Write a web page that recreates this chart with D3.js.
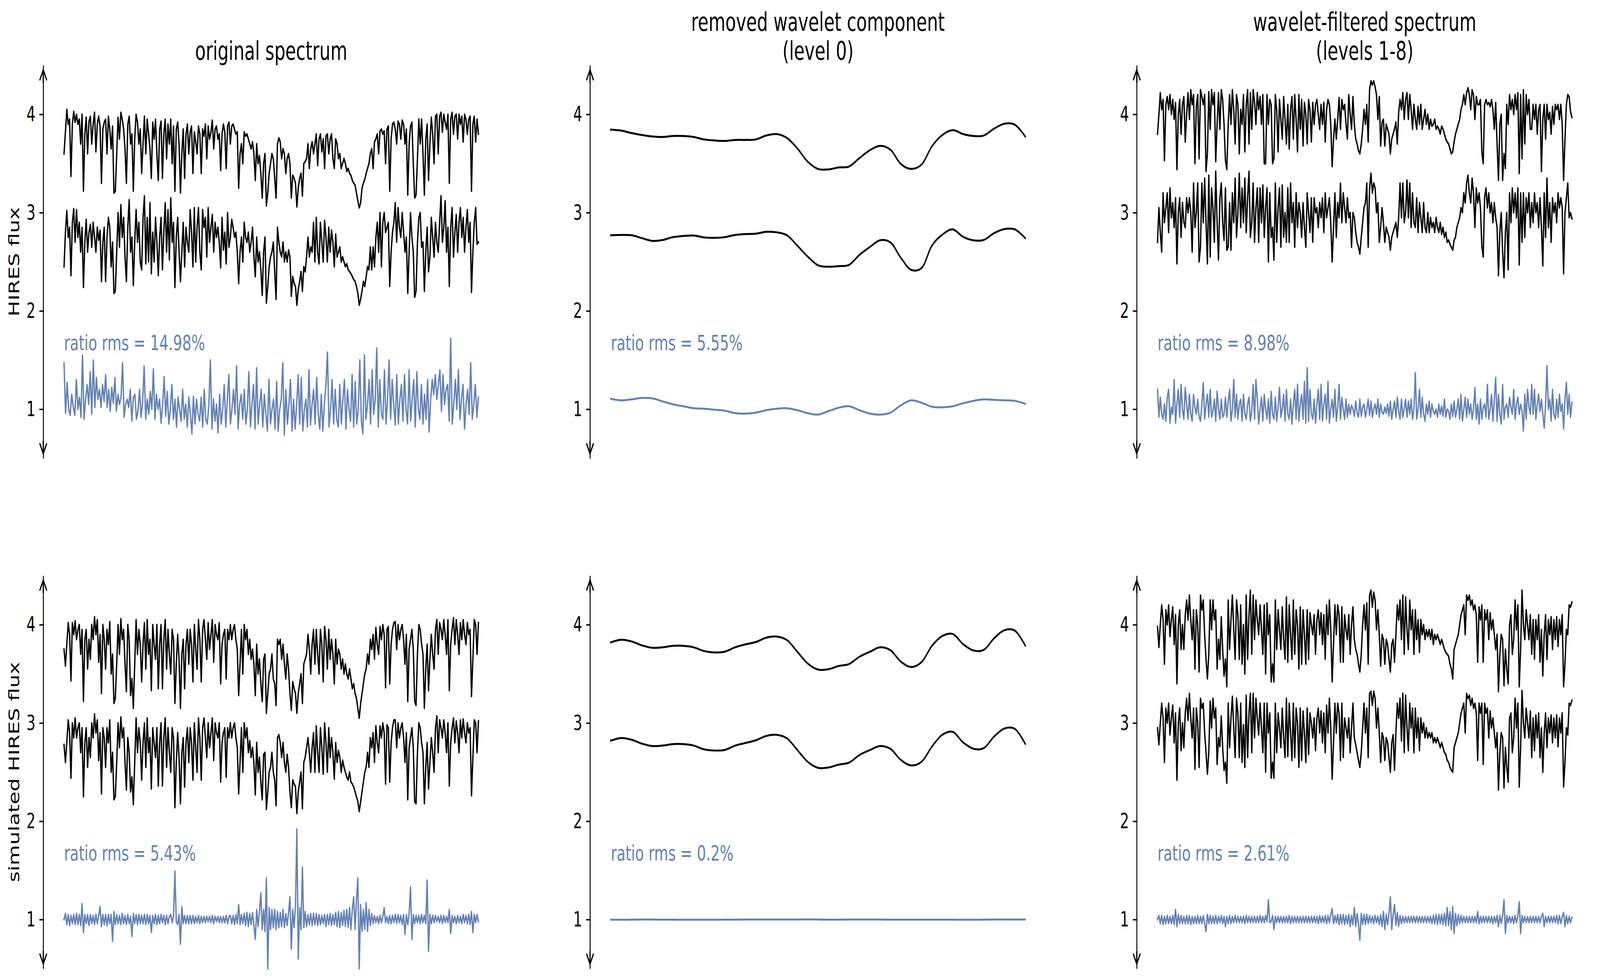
<!DOCTYPE html>
<html>
<head>
<meta charset="utf-8">
<style>
    html, body { margin: 0; padding: 0; background: #fff; width: 100%; height: 100%; overflow: hidden; }
    svg { display: block; width: 100vw; height: 100vh; }
    text { font-family: "DejaVu Sans", sans-serif; }
</style>
<script src="https://d3js.org/d3.v7.min.js"></script>
</head>
<body>
<svg id="chart" viewBox="0 0 6004 2508" preserveAspectRatio="none"></svg>
<script>
// values, each series goes left to right at even steps
var tickValues = [1, 2, 3, 4];
var columnTitles = [["original spectrum"], ["removed wavelet component", "(level 0)"], ["wavelet-filtered spectrum", "(levels 1-8)"]];
var rowLabels = ["HIRES flux", "simulated HIRES flux"];
var ratioLabels = [["ratio rms = 14.98%", "ratio rms = 5.55%", "ratio rms = 8.98%"], ["ratio rms = 5.43%", "ratio rms = 0.2%", "ratio rms = 2.61%"]];

var hiresOrigUpper = [3.6,3.82,4.05,3.9,3.95,3.37,3.9,4.03,3.92,4.0,3.9,3.95,3.7,4.0,3.22,3.8,3.97,3.6,3.93,3.98,3.7,3.9,4.02,3.62,3.9,3.98,3.88,3.3,3.85,3.92,
3.95,3.6,3.98,3.85,3.65,3.88,3.2,3.22,3.6,3.97,3.75,4.02,3.95,3.85,3.65,3.3,3.9,3.98,3.7,3.8,3.22,3.75,4.0,3.92,3.7,3.85,3.4,3.7,3.98,3.6,
3.95,3.8,3.65,3.35,3.92,3.75,3.95,3.6,3.33,3.85,3.93,3.35,3.8,3.95,3.55,3.9,3.7,3.95,3.5,3.88,3.22,3.85,3.92,3.7,3.2,3.6,3.85,3.35,3.8,3.9,
3.6,3.82,3.88,3.4,3.82,3.72,3.6,3.88,3.8,3.4,3.85,3.78,3.9,3.55,3.88,3.75,3.82,3.94,3.65,3.85,3.88,3.75,3.8,3.43,3.8,3.9,3.82,3.45,3.88,3.92,
3.7,3.88,3.9,3.85,3.8,3.82,3.25,3.6,3.7,3.5,3.82,3.78,3.8,3.75,3.7,3.65,3.72,3.6,3.33,3.7,3.5,3.58,3.4,3.15,3.5,3.6,3.07,3.2,3.4,3.5,
3.6,3.55,3.35,3.15,3.7,3.76,3.72,3.55,3.65,3.6,3.4,3.55,3.6,3.5,3.15,3.38,3.35,3.3,3.06,3.25,3.35,3.4,3.17,3.5,3.52,3.55,3.7,3.45,3.65,3.72,
3.6,3.7,3.8,3.48,3.75,3.8,3.62,3.75,3.45,3.78,3.8,3.6,3.75,3.8,3.55,3.45,3.75,3.7,3.55,3.6,3.45,3.5,3.55,3.5,3.42,3.45,3.4,3.38,3.33,3.3,3.28,3.2,3.12,3.05,
3.1,3.25,3.3,3.34,3.4,3.45,3.5,3.6,3.65,3.45,3.72,3.75,3.8,3.6,3.83,3.85,3.8,3.83,3.5,3.85,3.88,3.22,3.75,3.9,3.92,3.85,3.7,3.93,3.9,3.75,
3.94,3.9,3.7,3.85,3.18,3.7,3.88,3.92,3.5,3.15,3.18,3.55,3.95,3.7,3.95,3.6,3.18,3.75,3.9,3.33,3.7,3.97,3.8,3.5,3.98,4.0,
3.6,3.98,4.02,3.82,4.0,3.92,3.85,4.0,3.3,3.95,4.02,3.8,3.98,4.0,3.75,4.0,3.9,3.98,3.72,4.0,3.95,3.8,3.95,3.98,3.22,3.9,3.98,3.72,3.95,3.8];

var hiresOrigLower = [2.45,2.8,3.02,2.75,2.85,2.36,2.9,3.04,2.7,3.03,2.75,2.9,2.6,2.85,2.24,2.7,2.93,2.6,2.8,2.88,2.65,2.9,2.75,2.6,2.85,2.72,2.82,2.3,2.7,2.85,
2.3,2.75,2.95,2.85,2.45,2.7,2.18,2.2,2.6,3.0,2.65,3.08,2.75,2.95,2.55,2.3,2.85,3.13,2.6,2.75,2.26,2.7,3.03,2.7,2.9,2.5,2.42,2.95,3.17,2.48,
2.95,2.5,3.1,2.38,2.8,2.5,2.95,2.7,2.36,2.75,2.95,2.42,2.8,3.1,2.6,3.03,2.52,3.15,2.7,2.9,2.24,2.75,2.95,2.6,2.3,2.6,2.9,2.45,2.85,2.7,
2.6,3.03,2.8,2.45,3.05,2.5,2.85,3.05,2.6,2.42,3.03,2.85,2.95,2.55,3.05,2.7,2.85,2.98,2.6,2.9,2.75,2.85,2.7,2.44,2.95,2.62,2.8,2.48,3.0,2.65,
2.75,2.93,2.85,2.75,2.8,2.6,2.28,2.6,2.75,2.5,2.9,2.75,2.7,2.8,2.6,2.7,2.85,2.55,2.35,2.75,2.5,2.6,2.42,2.16,2.6,2.75,2.08,2.25,2.45,2.55,
2.6,2.7,2.4,2.12,2.85,2.7,2.6,2.55,2.7,2.5,2.6,2.5,2.62,2.55,2.15,2.35,2.28,2.25,2.06,2.22,2.3,2.4,2.2,2.45,2.4,2.55,2.75,2.55,2.65,2.6,
2.9,2.5,2.95,2.6,2.48,2.9,2.7,2.5,2.92,2.75,2.5,2.85,2.6,2.82,2.7,2.45,2.78,2.55,2.6,2.65,2.5,2.55,2.5,2.45,2.48,2.42,2.4,2.38,2.35,2.32,2.3,2.25,2.18,2.06,
2.12,2.2,2.3,2.25,2.35,2.45,2.42,2.65,2.42,2.65,2.45,2.75,2.9,2.6,3.0,2.45,2.9,3.0,2.8,2.85,2.9,2.25,2.6,2.8,2.9,3.1,2.7,3.05,2.85,2.75,
3.0,2.8,2.6,2.75,2.18,2.6,3.0,2.75,2.6,2.14,2.2,2.7,2.95,3.0,2.65,2.7,2.2,2.6,2.85,2.4,2.55,2.95,2.75,2.55,2.9,2.7,
2.6,2.9,3.17,2.7,2.85,3.12,2.6,2.85,2.25,2.85,3.05,2.55,2.8,2.98,2.6,2.9,3.05,2.75,2.95,2.6,2.85,3.03,2.7,2.9,2.19,2.6,2.9,3.05,2.68,2.7];

var ratioOrig = [1.47,0.96,1.27,1.0,0.94,1.15,1.02,0.94,1.3,1.0,1.12,0.92,1.55,0.9,1.1,1.25,1.05,1.38,0.95,1.5,1.02,1.32,1.1,1.2,1.02,1.25,1.08,1.35,1.02,1.2,
0.98,1.22,1.06,1.32,0.98,1.15,1.05,1.12,1.47,0.92,1.05,1.1,1.02,1.2,0.88,1.12,1.15,0.9,0.98,1.2,0.92,1.08,1.44,0.9,1.1,0.95,1.18,1.0,1.41,0.9,
1.15,1.0,1.1,0.86,1.05,1.33,0.93,1.18,0.85,1.0,1.25,0.9,1.1,0.82,1.12,1.0,0.88,1.2,0.9,1.05,0.82,1.12,0.95,0.75,1.13,0.85,1.1,0.95,0.88,1.12,
0.82,1.2,0.9,0.85,1.05,1.5,0.8,1.1,0.88,1.05,0.76,1.15,0.85,1.0,1.25,0.82,1.1,1.35,0.85,1.0,1.2,0.95,1.44,0.8,1.05,1.15,0.9,1.2,0.85,1.0,
1.38,0.82,1.05,1.25,0.8,1.42,0.85,1.05,1.2,0.82,1.15,0.95,0.78,1.3,0.85,1.0,1.1,0.8,1.28,0.78,1.0,1.1,1.47,0.74,1.2,0.85,1.05,1.3,0.78,1.1,
0.8,1.05,1.35,0.85,1.32,0.78,1.0,1.1,0.82,1.4,0.84,1.05,1.2,0.85,1.32,0.95,0.8,1.15,0.78,1.05,1.25,1.58,0.82,1.0,1.3,0.85,1.2,0.9,0.82,1.25,
0.85,1.1,1.3,0.8,1.2,1.0,0.88,1.35,0.82,1.28,0.85,1.0,1.5,0.88,0.75,1.55,0.9,1.05,1.3,0.85,1.4,0.95,1.1,1.62,0.82,1.3,0.95,0.9,1.4,0.85,
1.1,1.5,0.9,1.3,1.05,0.84,1.35,0.85,1.1,1.25,0.88,1.35,1.0,0.85,1.4,0.88,1.1,1.3,0.82,1.38,1.0,0.9,1.25,0.85,1.15,0.9,1.3,0.77,1.1,1.3,
1.15,1.35,1.1,1.25,1.4,0.98,1.35,1.05,1.2,1.25,0.88,1.72,0.85,1.05,1.3,1.0,1.4,0.9,1.1,1.25,0.8,1.05,1.2,0.95,1.47,0.9,1.05,1.25,0.92,1.12];

var waveletUpperA = [3.845,3.835,3.81,3.79,3.775,3.77,3.78,3.78,3.77,3.745,3.735,3.73,3.74,3.74,3.745,3.785,3.8,3.76,3.655,3.52,
3.445,3.44,3.46,3.47,3.555,3.635,3.68,3.64,3.495,3.445,3.49,3.675,3.79,3.84,3.8,3.78,3.785,3.855,3.905,3.895,3.775];
var waveletUpperB = [2.77,2.773,2.77,2.741,2.713,2.722,2.751,2.763,2.767,2.748,2.744,2.751,2.773,2.782,2.786,2.805,2.8,2.77,2.665,2.554,
2.465,2.45,2.456,2.469,2.57,2.65,2.72,2.697,2.54,2.418,2.437,2.665,2.776,2.83,2.754,2.719,2.722,2.792,2.833,2.83,2.741];
var waveletUpperRatio = [1.105,1.09,1.1,1.115,1.11,1.08,1.05,1.03,1.01,1.005,0.995,0.985,0.96,0.955,0.965,0.99,1.005,1.01,0.99,0.96,
0.945,0.98,1.015,1.03,0.99,0.955,0.945,0.965,1.04,1.09,1.065,1.025,1.02,1.03,1.06,1.085,1.1,1.095,1.09,1.085,1.055];

var filtOrigUpper = [3.8,4.0,4.22,4.05,4.15,3.53,4.1,4.18,4.05,4.2,4.0,4.15,3.95,4.12,3.44,4.0,4.15,3.8,4.1,4.18,3.72,4.0,4.22,3.95,4.25,4.1,4.2,3.5,4.08,4.2,
3.55,4.25,4.18,4.1,4.2,3.42,3.6,4.23,3.85,4.25,4.1,4.22,3.52,3.9,4.22,3.85,4.25,4.15,3.9,3.53,3.44,3.9,4.2,3.9,4.25,4.05,3.7,4.2,4.1,3.6,
4.05,3.9,4.2,3.62,4.1,4.25,3.7,4.22,3.85,4.25,4.12,3.9,4.22,4.05,4.18,3.9,4.2,3.5,3.5,4.2,3.9,4.15,4.1,3.5,3.55,4.2,4.05,3.62,4.15,3.95,
3.75,4.18,3.95,3.7,4.1,3.65,4.05,4.18,3.75,4.2,3.95,3.62,4.2,3.85,4.15,3.68,4.12,4.0,3.7,4.15,4.05,3.72,4.12,3.9,4.1,4.15,4.0,3.85,4.1,3.9,
4.12,3.72,4.05,4.15,4.1,3.9,3.47,3.75,3.95,3.75,3.95,4.17,3.85,4.15,4.05,4.1,3.9,3.75,4.2,4.0,3.85,4.18,3.9,3.75,3.7,3.63,3.6,3.7,3.85,4.05,
3.9,4.1,3.72,4.25,4.34,4.3,4.34,4.28,4.2,3.95,4.18,3.68,3.92,3.95,3.68,3.9,3.85,3.8,3.6,3.75,3.8,3.85,3.92,3.7,4.02,4.15,4.05,4.22,3.95,4.15,
4.22,3.95,4.2,4.05,3.85,4.1,3.95,3.85,4.08,3.9,4.1,3.85,3.95,4.05,3.9,4.0,3.85,3.95,3.88,3.9,3.95,3.85,3.88,3.85,3.8,3.88,3.85,3.8,3.75,3.72,
3.7,3.65,3.6,3.62,3.72,3.8,3.85,3.9,3.95,4.05,4.1,4.2,4.1,4.22,4.27,4.2,4.05,4.25,4.2,3.95,4.18,4.1,4.1,4.15,3.62,3.5,4.1,4.15,4.1,4.12,
4.08,4.15,4.05,3.85,4.12,3.7,3.33,3.9,4.0,3.33,3.6,3.45,4.1,3.9,4.2,4.05,4.15,4.0,4.2,4.05,4.22,3.4,4.2,3.55,4.25,3.7,4.2,4.0,4.15,3.85,
3.85,4.1,3.95,4.1,3.8,4.05,4.1,3.42,3.95,4.1,3.75,4.1,3.95,4.02,3.8,4.08,3.9,4.1,4.05,4.1,3.95,4.1,3.9,3.33,3.75,4.1,4.2,4.18,4.03,3.97];

var filtOrigLower = [2.7,3.05,2.8,2.6,3.2,2.9,3.05,3.2,2.8,3.25,2.95,3.1,2.85,3.15,2.48,3.0,3.15,2.75,3.1,2.9,2.85,3.15,3.0,3.15,3.0,2.6,3.3,2.85,3.0,3.3,
2.5,2.65,3.3,2.9,3.35,2.9,2.48,3.38,2.55,3.25,3.05,2.7,3.42,2.9,2.52,3.15,3.3,2.9,2.72,3.25,2.62,2.65,3.1,2.62,3.2,2.9,3.35,2.75,3.0,3.4,
2.85,3.25,2.9,3.35,2.8,3.15,3.42,2.75,2.9,3.3,2.7,3.05,3.25,2.7,3.25,2.9,3.28,2.75,3.05,3.25,2.5,3.2,2.75,2.85,2.52,3.3,2.7,3.05,3.25,2.65,
3.28,2.75,3.0,2.7,3.25,2.7,3.3,2.9,3.1,2.65,3.2,2.85,3.1,3.0,2.75,3.1,2.85,2.65,3.2,3.0,2.8,3.15,2.7,3.15,3.0,3.05,2.85,3.1,2.95,3.15,
2.8,3.2,2.95,3.05,3.15,2.9,2.5,2.85,3.2,2.75,3.1,2.95,3.3,2.9,3.2,3.05,2.9,3.15,2.95,3.0,2.65,3.0,2.95,2.8,2.7,2.65,2.58,2.75,2.9,3.05,
3.1,3.3,2.65,3.25,3.4,3.2,3.3,3.25,3.0,3.1,2.7,2.85,3.05,2.9,2.7,2.85,2.8,2.75,2.62,2.75,2.8,2.85,2.9,2.75,2.95,3.3,2.95,3.3,2.9,3.0,
3.33,2.95,3.3,2.85,3.2,2.9,2.85,3.15,2.8,3.1,2.95,2.8,3.1,2.85,2.8,3.0,2.8,2.95,2.85,2.9,2.8,2.95,2.85,2.8,2.9,2.78,2.85,2.75,2.8,2.7,
2.72,2.68,2.65,2.62,2.72,2.75,2.85,2.9,2.95,3.05,3.0,3.2,3.1,3.3,3.38,3.2,3.1,3.35,3.2,2.85,3.25,3.1,3.2,3.05,2.66,2.55,3.15,3.25,3.05,3.2,
3.0,3.1,2.9,3.1,2.95,2.85,2.36,2.8,3.0,2.6,2.34,2.8,3.0,2.42,3.2,2.9,3.25,3.0,3.2,2.95,3.25,2.47,3.2,2.7,3.2,2.75,3.15,3.0,3.2,2.85,
3.1,2.9,3.2,3.0,3.1,2.85,3.15,2.85,2.46,3.2,2.75,3.35,2.85,3.1,2.7,3.15,3.0,3.1,2.9,3.2,3.05,3.15,3.05,2.38,3.0,3.15,3.3,2.95,3.0,2.94];

var ratioFilt = [1.2,0.92,1.12,0.95,0.9,1.05,0.88,1.12,1.2,0.86,1.02,0.95,1.3,0.86,1.05,1.2,0.92,1.25,1.0,0.9,1.22,1.05,0.9,1.15,0.95,0.88,1.15,1.02,0.95,1.1,
0.92,0.88,1.05,1.27,0.9,1.05,1.15,0.92,1.2,0.92,0.98,1.1,0.88,1.18,1.0,0.9,1.1,0.92,0.95,1.12,0.92,1.08,1.2,0.88,1.0,1.3,0.92,1.15,0.9,1.05,
1.1,0.88,1.15,0.95,0.9,1.05,1.12,0.88,0.98,1.25,0.9,1.3,1.1,0.85,1.0,1.12,0.88,1.15,1.0,0.9,1.1,0.86,1.18,0.95,0.9,1.12,0.88,1.02,1.22,0.92,
1.0,1.15,0.88,1.2,0.95,0.9,1.1,0.85,1.05,1.2,0.9,1.25,0.88,1.05,1.15,0.9,1.28,0.86,1.42,0.88,1.2,0.95,0.9,1.1,0.86,1.05,1.2,0.9,1.25,0.88,
1.05,1.15,0.9,1.28,0.86,1.0,1.1,0.92,1.2,0.88,1.02,1.25,0.9,1.12,1.0,0.9,1.1,0.92,1.05,0.95,1.04,1.0,0.93,1.08,0.96,0.92,1.1,0.93,1.02,1.05,
0.92,1.0,1.1,0.94,1.08,0.92,1.0,1.05,0.95,1.1,0.92,1.05,0.97,0.95,1.02,0.96,1.05,0.93,1.08,0.9,1.0,1.08,0.92,1.12,0.98,0.9,1.1,0.92,1.0,1.1,
0.92,1.08,0.95,1.1,0.9,1.0,1.37,0.9,1.0,1.2,0.92,1.12,0.95,0.88,1.05,0.95,1.08,0.92,1.05,0.98,0.95,1.0,0.92,1.05,0.95,1.03,0.93,1.1,0.92,1.0,
0.98,0.9,1.05,0.93,1.08,0.92,1.0,1.1,0.9,1.15,0.88,1.0,1.12,0.92,1.1,0.95,1.05,0.9,1.0,1.22,0.9,1.05,0.85,1.1,0.9,1.02,1.05,0.92,1.25,0.9,
1.0,1.15,0.88,1.1,1.32,0.88,1.15,0.95,0.85,1.25,0.9,1.02,1.05,0.92,1.12,1.02,0.95,1.2,0.9,1.05,1.12,0.95,1.05,0.98,0.78,1.15,0.9,1.2,1.02,0.95,
1.25,0.95,1.2,0.9,1.05,1.15,0.98,1.1,0.95,0.81,1.05,1.44,1.0,1.1,0.88,1.2,0.95,0.9,1.1,0.92,1.15,0.98,1.05,0.8,1.1,1.27,0.95,1.15,0.92,1.07];

var simOrigUpper = [3.75,3.58,3.8,4.02,3.9,3.43,4.02,3.9,4.04,3.85,3.95,4.0,3.7,3.95,3.22,3.85,3.95,3.55,3.85,3.65,4.0,3.85,4.08,3.9,4.05,3.62,3.9,3.3,4.0,3.85,
3.55,3.95,3.8,4.03,3.5,3.7,3.2,3.25,3.6,4.0,3.7,4.06,3.85,3.95,3.6,3.32,4.0,3.85,3.28,3.45,3.15,3.6,4.05,3.7,3.95,3.8,3.42,3.8,4.02,3.55,
4.05,3.7,3.85,3.33,4.0,3.8,3.65,4.0,3.35,3.8,4.0,3.35,3.85,4.05,3.55,3.95,3.7,3.5,3.95,3.85,3.2,3.6,3.9,3.65,3.15,3.7,3.85,3.35,3.8,3.95,
3.6,3.95,3.8,3.42,4.0,3.75,3.55,4.05,3.85,3.42,3.95,4.05,3.85,3.65,4.02,3.75,3.9,4.05,3.62,4.0,3.9,3.85,4.02,3.4,3.8,3.9,3.95,3.45,3.95,3.85,
4.0,3.85,3.95,4.0,3.85,3.75,3.28,3.6,3.95,3.5,4.0,3.85,3.95,3.7,3.85,3.65,3.75,3.6,3.28,3.8,3.5,3.65,3.4,3.22,3.65,3.7,3.1,3.3,3.5,3.55,
3.7,3.45,3.4,3.18,3.85,3.8,3.85,3.65,3.8,3.6,3.45,3.7,3.55,3.3,3.13,3.42,3.35,3.3,3.1,3.3,3.4,3.5,3.2,3.6,3.65,3.7,3.9,3.75,3.5,3.8,
3.95,3.6,3.95,3.7,3.5,3.95,3.8,3.42,3.98,3.85,3.55,3.95,3.65,3.85,3.7,3.4,3.85,3.6,3.75,3.7,3.55,3.65,3.5,3.6,3.5,3.45,3.55,3.45,3.35,3.4,3.3,3.25,3.15,3.05,
3.2,3.3,3.4,3.5,3.55,3.7,3.6,3.85,3.75,3.9,3.65,3.97,3.8,3.7,3.98,3.85,4.0,3.9,3.36,3.95,3.98,3.4,3.8,3.95,4.02,4.03,3.75,4.0,3.85,3.95,
4.0,3.85,3.6,3.9,3.22,3.75,3.85,3.95,3.75,3.22,3.18,3.7,4.0,3.95,3.8,3.7,3.15,3.55,3.8,3.33,3.65,3.9,3.7,3.55,3.95,4.05,
3.7,4.02,3.95,3.85,4.05,3.9,3.7,4.05,3.33,3.8,3.95,4.07,3.8,4.05,3.9,3.7,4.02,3.85,4.05,3.9,3.8,4.02,3.9,3.95,3.27,3.65,4.05,4.0,3.7,4.02];

var simOrigLower = [2.78,2.6,2.8,3.03,2.9,2.44,3.0,2.85,3.05,2.85,2.95,3.0,2.7,2.95,2.25,2.8,2.95,2.55,2.85,2.65,3.0,2.85,3.09,2.9,3.03,2.62,2.9,2.28,2.95,2.85,
2.55,2.95,2.8,3.03,2.5,2.7,2.22,2.25,2.6,3.0,2.75,3.06,2.85,2.95,2.6,2.32,2.85,2.7,2.3,2.45,2.17,2.6,3.05,2.7,2.95,2.8,2.42,2.8,3.0,2.55,
3.05,2.7,2.85,2.33,2.95,2.8,2.65,2.95,2.36,2.8,3.0,2.36,2.85,3.05,2.55,2.95,2.7,2.5,2.95,2.85,2.14,2.6,2.9,2.65,2.18,2.7,2.85,2.35,2.8,2.95,
2.6,2.95,2.8,2.42,3.0,2.75,2.5,3.05,2.85,2.42,2.95,3.05,2.85,2.65,3.0,2.75,2.9,3.05,2.62,3.0,2.9,2.85,3.0,2.4,2.8,2.9,2.95,2.45,2.95,2.85,
3.0,2.85,2.95,3.0,2.85,2.75,2.28,2.6,2.95,2.5,3.0,2.85,2.95,2.7,2.82,2.65,2.75,2.6,2.27,2.8,2.5,2.65,2.4,2.22,2.68,2.7,2.12,2.3,2.5,2.55,
2.7,2.5,2.42,2.16,2.85,2.88,2.8,2.65,2.8,2.6,2.5,2.68,2.55,2.3,2.14,2.42,2.38,2.35,2.08,2.3,2.4,2.5,2.13,2.6,2.65,2.75,2.85,2.7,2.5,2.75,
2.9,2.5,2.97,2.7,2.5,2.95,2.75,2.48,3.0,2.8,2.5,2.95,2.65,2.85,2.7,2.43,2.8,2.6,2.72,2.65,2.5,2.62,2.55,2.5,2.45,2.42,2.5,2.4,2.38,2.35,2.3,2.25,2.2,2.1,
2.2,2.3,2.4,2.5,2.55,2.7,2.55,2.85,2.75,2.9,2.6,2.97,2.8,2.7,2.97,2.85,3.0,2.9,2.38,2.98,2.95,2.4,2.8,2.95,3.03,3.03,2.75,3.0,2.85,2.95,
3.0,2.85,2.6,2.9,2.22,2.75,2.85,2.95,2.75,2.2,2.18,2.7,3.0,2.95,2.8,2.7,2.18,2.55,2.8,2.33,2.6,2.85,2.7,2.5,2.95,3.07,
2.7,3.03,2.95,2.85,3.03,2.9,2.7,3.0,2.36,2.8,2.95,3.05,2.8,3.02,2.9,2.7,3.03,2.85,3.04,2.9,2.8,3.0,2.9,2.95,2.26,2.65,3.03,3.0,2.7,3.02];

var ratioSimOrig = [1.0,1.06,0.95,1.05,0.94,1.04,0.96,1.05,0.95,1.06,0.95,1.05,0.94,1.16,0.87,1.05,0.96,1.05,0.94,1.05,0.96,1.04,0.95,1.05,0.96,1.04,1.13,0.93,1.05,0.95,
1.05,0.94,1.05,0.96,1.05,0.78,1.08,0.95,1.05,0.96,1.04,0.95,1.06,0.96,1.04,0.95,1.05,0.96,1.03,0.83,1.06,0.96,1.05,0.95,1.05,0.96,1.04,0.96,1.05,0.95,
1.05,0.96,1.04,0.87,1.04,0.96,1.05,0.95,1.04,0.96,1.05,0.97,1.04,0.95,1.04,0.96,1.03,1.05,0.97,1.04,1.49,0.98,0.95,1.05,0.75,1.13,0.96,1.04,0.96,1.04,
0.96,1.04,0.96,1.04,0.96,1.03,0.97,1.04,0.96,1.03,0.97,1.03,0.97,1.03,0.98,1.03,0.97,1.04,0.96,1.03,0.98,1.03,0.97,1.03,0.97,1.03,0.97,1.04,0.96,1.03,
1.04,0.96,1.04,0.95,1.05,0.96,1.15,0.95,1.05,0.96,1.06,0.94,1.07,0.93,1.06,0.95,1.07,0.94,0.8,1.1,0.93,1.08,1.27,0.9,1.1,0.88,1.42,0.5,1.12,0.9,
1.1,0.92,1.1,0.9,1.08,0.92,1.07,0.93,1.1,0.92,1.06,0.94,1.07,1.23,0.7,1.1,0.92,1.15,1.92,0.6,1.12,0.9,1.53,0.92,1.08,0.93,1.05,0.95,1.06,0.94,
1.06,0.95,1.06,0.94,1.05,0.95,1.04,0.96,1.05,0.93,1.05,0.95,1.06,0.94,1.05,0.95,1.07,0.93,1.08,0.92,1.07,0.94,1.09,0.93,1.1,0.92,1.12,0.9,1.1,1.23,
0.9,1.2,1.42,0.5,1.15,0.88,1.1,0.9,1.17,0.88,1.1,0.94,1.06,0.96,1.04,0.97,1.03,0.96,1.04,0.97,1.03,1.12,0.97,1.03,0.96,1.04,0.96,1.04,0.97,1.05,
0.96,1.05,0.97,1.04,0.95,1.05,0.85,1.05,0.95,1.06,1.33,0.8,1.05,0.96,1.04,0.97,1.04,0.96,1.05,0.97,1.04,0.96,1.4,0.68,1.05,0.96,1.04,0.97,1.04,0.98,
1.03,0.97,1.04,0.96,1.04,0.97,1.03,0.97,1.1,0.86,1.04,0.97,1.03,0.96,1.04,0.97,1.03,0.96,1.05,0.97,1.04,0.96,1.05,0.95,1.08,0.87,1.05,0.97,1.05,0.98];

var waveletLowerA = [3.82,3.847,3.83,3.79,3.765,3.77,3.785,3.785,3.77,3.732,3.718,3.726,3.77,3.8,3.824,3.868,3.88,3.844,3.726,3.606,
3.544,3.547,3.58,3.6,3.674,3.724,3.77,3.74,3.624,3.57,3.62,3.785,3.885,3.906,3.803,3.738,3.744,3.862,3.944,3.94,3.788];
var waveletLowerB = [2.82,2.847,2.83,2.79,2.765,2.77,2.785,2.785,2.77,2.732,2.72,2.726,2.77,2.797,2.824,2.868,2.88,2.844,2.726,2.606,
2.544,2.547,2.576,2.597,2.674,2.724,2.765,2.736,2.624,2.568,2.606,2.76,2.88,2.91,2.803,2.738,2.744,2.862,2.944,2.94,2.788];
var waveletLowerRatio = [0.998,0.998,0.999,1.0,1.0,0.999,0.999,0.998,0.998,0.998,0.998,0.999,0.999,1.0,1.0,1.0,1.0,1.0,1.0,1.001,
1.0,0.999,0.999,1.0,1.0,1.0,1.0,0.999,0.999,0.999,0.999,0.999,0.999,0.999,0.998,0.998,0.999,1.0,1.0,1.0,1.0];

var simFiltUpper = [3.98,3.77,4.0,4.2,4.05,3.6,4.15,4.0,4.2,3.88,4.05,4.18,3.8,4.1,3.4,4.0,4.15,3.75,4.0,3.75,4.1,4.25,4.05,4.3,4.05,3.85,4.15,3.55,4.15,4.0,
3.52,4.3,4.15,4.25,3.9,3.65,3.45,3.7,4.25,3.95,4.25,4.05,4.15,3.55,3.85,3.65,4.08,3.75,3.48,3.65,3.37,4.25,3.75,4.05,4.3,3.95,3.65,4.25,4.1,3.65,
4.2,3.6,4.0,3.5,4.3,3.65,4.1,4.35,3.7,4.3,3.85,4.25,4.05,3.9,4.2,3.95,3.7,4.2,3.5,4.22,3.9,4.1,3.42,3.6,3.42,4.25,3.75,4.15,3.95,3.75,
4.18,3.85,3.65,4.28,3.62,4.2,3.9,3.65,4.25,3.7,4.15,4.0,3.55,4.18,3.6,4.15,3.9,3.6,4.15,3.65,4.12,4.0,3.9,4.1,3.7,4.05,4.15,3.9,4.12,3.8,
4.1,3.65,4.2,3.9,4.25,3.95,3.42,3.8,4.2,3.9,4.2,4.1,3.62,4.18,3.62,4.1,3.95,3.85,4.1,3.7,4.0,4.18,3.85,3.75,3.7,3.6,3.52,3.7,4.0,4.2,
3.95,4.22,3.6,4.3,4.35,4.18,4.33,4.25,3.95,4.15,3.9,3.58,3.9,3.85,3.6,3.85,3.8,3.65,3.52,3.8,3.85,3.62,3.9,4.2,4.05,4.25,3.85,4.3,3.7,4.28,
3.95,3.75,4.25,3.95,4.15,3.7,4.15,3.85,4.05,3.72,4.05,3.9,4.0,3.85,3.95,3.88,3.95,3.85,3.95,3.8,3.9,3.85,3.9,3.85,3.8,3.85,3.8,3.75,3.72,3.7,
3.68,3.6,3.55,3.45,3.75,3.8,3.85,3.9,4.0,4.1,4.15,4.2,3.9,4.3,4.25,4.3,4.2,4.25,4.15,4.2,4.1,3.62,4.18,4.05,4.2,3.62,4.15,4.05,4.15,3.85,
4.12,3.95,4.05,3.9,3.75,3.9,3.32,3.7,3.9,3.85,3.38,3.75,3.55,3.4,4.0,4.1,3.7,3.85,4.25,3.95,4.2,3.37,3.75,4.35,4.0,3.85,4.15,4.0,3.85,4.1,
3.7,4.05,3.65,4.05,3.85,4.1,3.62,3.95,3.48,3.9,4.1,3.65,4.05,3.9,4.08,3.75,4.05,3.85,4.08,3.78,4.05,3.9,4.1,3.37,3.6,3.95,3.9,4.2,4.18,4.23];

var simFiltLower = [2.95,2.78,3.0,3.2,3.05,2.6,3.15,3.0,3.2,2.88,3.05,3.18,2.8,3.1,2.42,3.0,3.15,2.72,3.0,2.75,3.1,3.25,3.03,3.3,3.05,2.85,3.15,2.53,3.15,3.0,
2.55,3.25,3.15,3.2,2.9,2.7,2.48,2.7,3.22,2.95,3.25,3.05,3.15,2.58,2.85,2.76,3.07,2.75,2.52,2.6,2.39,3.2,2.75,3.05,3.27,2.95,2.65,3.25,3.1,2.65,
3.2,2.6,2.98,2.55,3.28,2.65,3.1,3.3,2.7,3.3,2.85,3.25,3.05,2.88,3.2,2.95,2.7,3.2,2.5,3.2,2.9,3.1,2.44,2.6,2.44,3.2,2.7,3.1,2.95,2.75,
3.15,2.85,2.65,3.25,2.66,3.2,2.9,2.62,3.2,2.65,3.15,3.0,2.55,3.15,2.62,3.12,2.9,2.6,3.15,2.68,3.1,3.0,2.85,3.05,2.72,3.05,3.15,2.9,3.12,2.8,
3.1,2.7,3.18,2.9,3.25,2.95,2.43,2.8,3.2,2.9,3.2,3.1,2.62,3.2,2.65,3.05,2.95,2.85,3.05,2.7,2.95,3.2,2.85,2.78,2.7,2.62,2.55,2.7,2.95,3.2,
2.9,3.15,2.65,3.3,3.32,3.18,3.32,3.25,2.95,3.15,2.9,2.6,2.9,2.85,2.62,2.85,2.8,2.65,2.5,2.8,2.88,2.52,2.9,3.2,3.05,3.25,2.82,3.3,2.7,3.28,
2.95,2.72,3.2,2.95,3.15,2.7,3.15,2.85,3.05,2.72,3.05,2.9,3.0,2.85,2.95,2.85,2.9,2.85,2.9,2.8,2.85,2.8,2.85,2.8,2.75,2.8,2.75,2.7,2.68,2.62,
2.6,2.55,2.52,2.5,2.75,2.8,2.85,2.9,3.0,3.1,3.15,3.2,2.9,3.3,3.25,3.28,3.18,3.25,3.15,3.2,3.1,2.62,3.2,3.1,3.2,2.58,3.2,3.1,3.15,2.85,
3.12,2.95,3.05,2.9,2.75,2.9,2.32,2.7,2.9,2.85,2.34,2.75,2.55,2.4,3.05,3.1,2.7,2.85,3.25,2.95,3.2,2.35,2.75,3.33,3.0,2.85,3.15,3.0,2.85,3.12,
2.65,3.05,2.72,3.08,2.85,3.1,2.65,2.95,2.5,2.9,3.1,2.75,3.05,2.9,3.08,2.8,3.05,2.85,3.08,2.76,3.05,2.9,3.1,2.35,2.6,2.95,2.88,3.2,3.18,3.23];

var ratioSimFilt = [1.0,1.04,0.96,1.04,0.95,1.03,0.96,1.04,0.96,1.03,0.96,1.04,0.95,1.1,0.93,1.05,0.96,1.04,0.96,1.03,0.96,1.04,0.96,1.04,0.95,1.03,0.96,1.03,0.96,1.04,
0.96,1.03,0.96,1.04,0.96,0.88,1.05,0.96,1.04,0.96,1.03,0.96,1.04,0.96,1.03,0.97,1.04,0.96,1.03,0.93,1.03,0.96,1.04,0.96,1.03,0.97,1.04,0.97,1.03,0.97,
1.03,0.97,1.03,0.96,1.04,0.97,1.03,0.97,1.03,0.97,1.03,0.97,1.03,0.97,1.04,0.97,1.03,0.97,1.04,0.98,1.2,0.97,0.98,1.04,0.9,1.03,0.97,1.03,0.97,1.03,
0.97,1.03,0.97,1.03,0.97,1.04,0.96,1.03,0.97,1.03,0.97,1.03,0.97,1.03,0.97,1.03,0.97,1.03,0.97,1.03,0.97,1.03,0.97,1.03,0.97,1.03,0.96,1.04,0.97,1.03,
0.97,1.04,0.96,1.04,0.97,1.05,1.11,0.96,1.04,0.97,1.05,0.95,1.05,0.96,1.05,0.95,1.04,0.96,1.05,0.93,1.04,0.95,1.12,0.93,1.06,0.95,0.79,1.06,0.95,1.05,
0.95,1.05,0.96,1.04,0.97,1.03,0.96,1.04,0.97,1.03,0.95,1.05,0.93,1.08,0.9,1.05,0.95,1.06,1.23,0.9,1.05,1.15,0.94,1.07,0.93,1.04,0.96,1.03,0.97,1.03,
0.97,1.03,0.97,1.03,0.97,1.03,0.97,1.03,0.97,1.03,0.97,1.03,0.97,1.03,0.97,1.03,0.97,1.03,0.96,1.04,0.96,1.05,0.95,1.05,0.96,1.05,0.95,1.06,0.94,1.12,
0.94,1.08,0.9,1.13,0.86,1.06,0.94,1.05,0.96,1.04,0.97,1.03,0.97,1.03,0.97,1.03,0.97,1.03,0.97,1.03,0.97,1.08,0.96,1.03,0.97,1.03,0.97,1.03,0.97,1.03,
0.97,1.03,0.96,1.03,0.97,1.04,0.93,1.04,0.96,1.04,1.2,0.86,1.04,0.97,1.03,0.97,1.03,0.96,1.04,0.97,1.03,1.18,0.86,1.04,0.97,1.03,0.97,1.03,0.97,1.03,
0.97,1.03,0.97,1.03,0.97,1.03,0.97,1.03,1.06,0.93,1.03,0.97,1.03,0.97,1.03,0.97,1.03,0.97,1.04,0.96,1.04,0.96,1.03,1.07,0.93,1.04,0.96,1.03,0.97,1.02];

var panels = [
    [[hiresOrigUpper, hiresOrigLower, ratioOrig], [waveletUpperA, waveletUpperB, waveletUpperRatio], [filtOrigUpper, filtOrigLower, ratioFilt]],
    [[simOrigUpper, simOrigLower, ratioSimOrig], [waveletLowerA, waveletLowerB, waveletLowerRatio], [simFiltUpper, simFiltLower, ratioSimFilt]]
];

var black = "#000000", blue = "#6381b5";
var colX = [162.3, 2214, 4265.6], rowY = [167, 1473];
var axW = 1711, axH = 1006;

var svg = d3.select("#chart");
var y = d3.scaleLinear().domain([0.5, 4.5]).range([axH, 0]);
var x = d3.scaleLinear().domain([0, 1]).range([78, axW - 78]);

function arrowHead(g, tipY, dir) {
    // open arrowhead on the spine, dir = 1 points up
    var armY = tipY + dir * 25, shaftY = tipY + dir * 32;
    g.append("path")
        .attr("d", "M-12.5," + armY + "L0," + tipY + "L12.5," + armY + "M0," + tipY + "L0," + shaftY)
        .attr("fill", "none").attr("stroke", black).attr("stroke-width", 4.4).attr("stroke-linecap", "round");
}

panels.forEach(function(row, r) {
    row.forEach(function(series, c) {
        var g = svg.append("g").attr("transform", "translate(" + colX[c] + "," + rowY[r] + ")");

        var axis = g.append("g")
            .call(d3.axisLeft(y).tickValues(tickValues).tickSize(14.6).tickSizeOuter(0).tickPadding(14.6).tickFormat(d3.format("d")));
        axis.selectAll("path, line").attr("stroke", black).attr("stroke-width", 3.6);
        axis.selectAll("text").attr("font-size", 53).attr("fill", black).style("font-family", "DejaVu Sans");

        arrowHead(g, y(4.5) + 12, 1);
        arrowHead(g, y(0.5) - 12, -1);

        series.forEach(function(vals, k) {
            var line = d3.line()
                .x(function(d, i) { return x(i / (vals.length - 1)); })
                .y(function(d) { return y(d); });
            if (vals.length < 100) line.curve(d3.curveCatmullRom);
            g.append("path").datum(vals)
                .attr("d", line)
                .attr("fill", "none")
                .attr("stroke", k == 2 ? blue : black)
                .attr("stroke-width", 5)
                .attr("stroke-linejoin", "round")
                .attr("stroke-linecap", "square");
        });

        g.append("text")
            .attr("x", 78).attr("y", y(1.6))
            .attr("font-size", 54).attr("fill", blue)
            .text(ratioLabels[r][c]);

        if (r == 0) {
            var lines = columnTitles[c];
            lines.forEach(function(t, i) {
                g.append("text")
                    .attr("x", axW / 2).attr("y", -14 - (lines.length - 1 - i) * 74)
                    .attr("text-anchor", "middle").attr("font-size", 65).attr("fill", black)
                    .text(t);
            });
        }
        if (c == 0) {
            g.append("text")
                .attr("transform", "translate(-91," + axH / 2 + ") rotate(-90)")
                .attr("text-anchor", "middle").attr("font-size", 54).attr("fill", black)
                .text(rowLabels[r]);
        }
    });
});
</script>
</body>
</html>
